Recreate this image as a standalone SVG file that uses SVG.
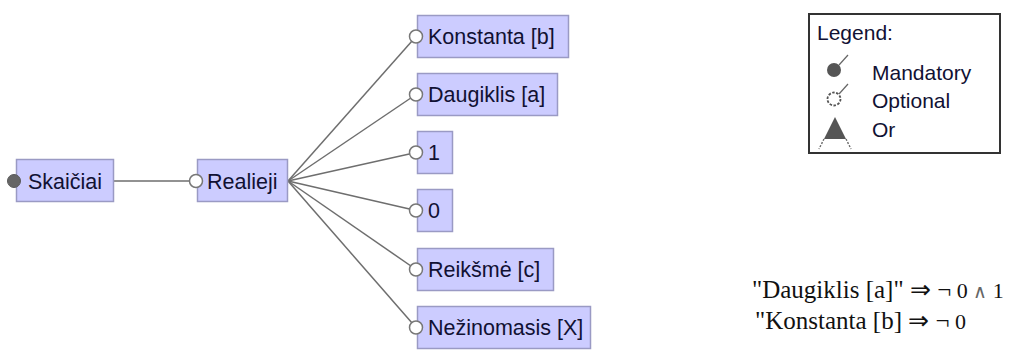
<svg xmlns="http://www.w3.org/2000/svg" width="1025" height="360" viewBox="0 0 1025 360">
  <style>
    .box { fill: #ccccff; stroke: #9a9ac4; stroke-width: 1.5; }
    .lbl { font-family: "Liberation Sans", Arial, sans-serif; font-size: 21.5px; fill: #111133; }
    .edge { stroke: #6e6e6e; stroke-width: 1.5; fill: none; }
    .opt { fill: #ffffff; stroke: #777777; stroke-width: 1.5; }
    .man { fill: #666666; stroke: #5a5a5a; stroke-width: 1; }
    .leg { font-family: "Liberation Sans", Arial, sans-serif; font-size: 21px; fill: #111133; }
    .cst { font-family: "Liberation Serif", "Times New Roman", serif; font-size: 25px; fill: #111111; }
    .arr { font-size: 25px; }
    .num { font-size: 22px; }
  </style>

  <!-- connectors -->
  <g id="connectors">
    <line class="edge" x1="113" y1="181" x2="196" y2="181"/>
    <line class="edge" x1="288" y1="181" x2="416" y2="36.5"/>
    <line class="edge" x1="288" y1="181" x2="416" y2="94.5"/>
    <line class="edge" x1="288" y1="181" x2="416" y2="152.5"/>
    <line class="edge" x1="288" y1="181" x2="416" y2="210.5"/>
    <line class="edge" x1="288" y1="181" x2="416" y2="269.5"/>
    <line class="edge" x1="288" y1="181" x2="416" y2="327.5"/>
  </g>

  <g id="skaiciai">
    <rect class="box" x="16.5" y="159.5" width="97" height="42"/>
    <circle class="man" cx="14" cy="181" r="6.5"/>
    <text class="lbl" x="28" y="188.5">Skaičiai</text>
  </g>

  <g id="realieji">
    <rect class="box" x="197.5" y="159.5" width="90" height="42"/>
    <circle class="opt" cx="196" cy="181" r="6.5"/>
    <text class="lbl" x="207" y="188.5">Realieji</text>
  </g>

  <g id="konstanta">
    <rect class="box" x="417.5" y="15.5" width="151" height="42"/>
    <circle class="opt" cx="416" cy="36.5" r="6.5"/>
    <text class="lbl" x="428" y="44">Konstanta [b]</text>
  </g>

  <g id="daugiklis">
    <rect class="box" x="417.5" y="73.5" width="140" height="42"/>
    <circle class="opt" cx="416" cy="94.5" r="6.5"/>
    <text class="lbl" x="428" y="102">Daugiklis [a]</text>
  </g>

  <g id="vienas">
    <rect class="box" x="417.5" y="131.5" width="35" height="42"/>
    <circle class="opt" cx="416" cy="152.5" r="6.5"/>
    <text class="lbl" x="428" y="160">1</text>
  </g>

  <g id="nulis">
    <rect class="box" x="417.5" y="189.5" width="35" height="42"/>
    <circle class="opt" cx="416" cy="210.5" r="6.5"/>
    <text class="lbl" x="428" y="218">0</text>
  </g>

  <g id="reiksme">
    <rect class="box" x="417.5" y="248.5" width="136" height="42"/>
    <circle class="opt" cx="416" cy="269.5" r="6.5"/>
    <text class="lbl" x="428" y="277">Reikšmė [c]</text>
  </g>

  <g id="nezinomasis">
    <rect class="box" x="417.5" y="306.5" width="173" height="42"/>
    <circle class="opt" cx="416" cy="327.5" r="6.5"/>
    <text class="lbl" x="428" y="335">Nežinomasis [X]</text>
  </g>

  <!-- legend -->
  <g id="legend">
    <rect x="809" y="14" width="191" height="139" fill="#ffffff" stroke="#333333" stroke-width="2"/>
    <text class="leg" x="817" y="40">Legend:</text>
    <circle cx="834" cy="70" r="7" fill="#555555"/>
    <line x1="839" y1="65" x2="848" y2="55" stroke="#666666" stroke-width="1.2"/>
    <text class="leg" x="872" y="80">Mandatory</text>
    <circle cx="834" cy="99" r="6.5" fill="#ffffff" stroke="#555555" stroke-width="1.8" stroke-dasharray="2.5 1.5"/>
    <line x1="839" y1="94" x2="848" y2="84" stroke="#666666" stroke-width="1.2"/>
    <text class="leg" x="872" y="108">Optional</text>
    <polygon points="835,117 824,139 846,139" fill="#555555"/>
    <line x1="824" y1="139" x2="819" y2="149" stroke="#666666" stroke-width="1.4" stroke-dasharray="2 1.5"/>
    <line x1="846" y1="139" x2="851" y2="149" stroke="#666666" stroke-width="1.4" stroke-dasharray="2 1.5"/>
    <text class="leg" x="872" y="137">Or</text>
  </g>

  <!-- constraints -->
  <g id="constraints">
    <text class="cst" x="752" y="298">"Daugiklis [a]" <tspan class="arr">⇒ ¬</tspan><tspan class="num"> 0 </tspan><tspan fill="#666666" font-size="19px">∧</tspan><tspan class="num"> 1</tspan></text>
    <text class="cst" x="755" y="329">"Konstanta [b] <tspan class="arr">⇒ ¬</tspan><tspan class="num"> 0</tspan></text>
  </g>
</svg>
